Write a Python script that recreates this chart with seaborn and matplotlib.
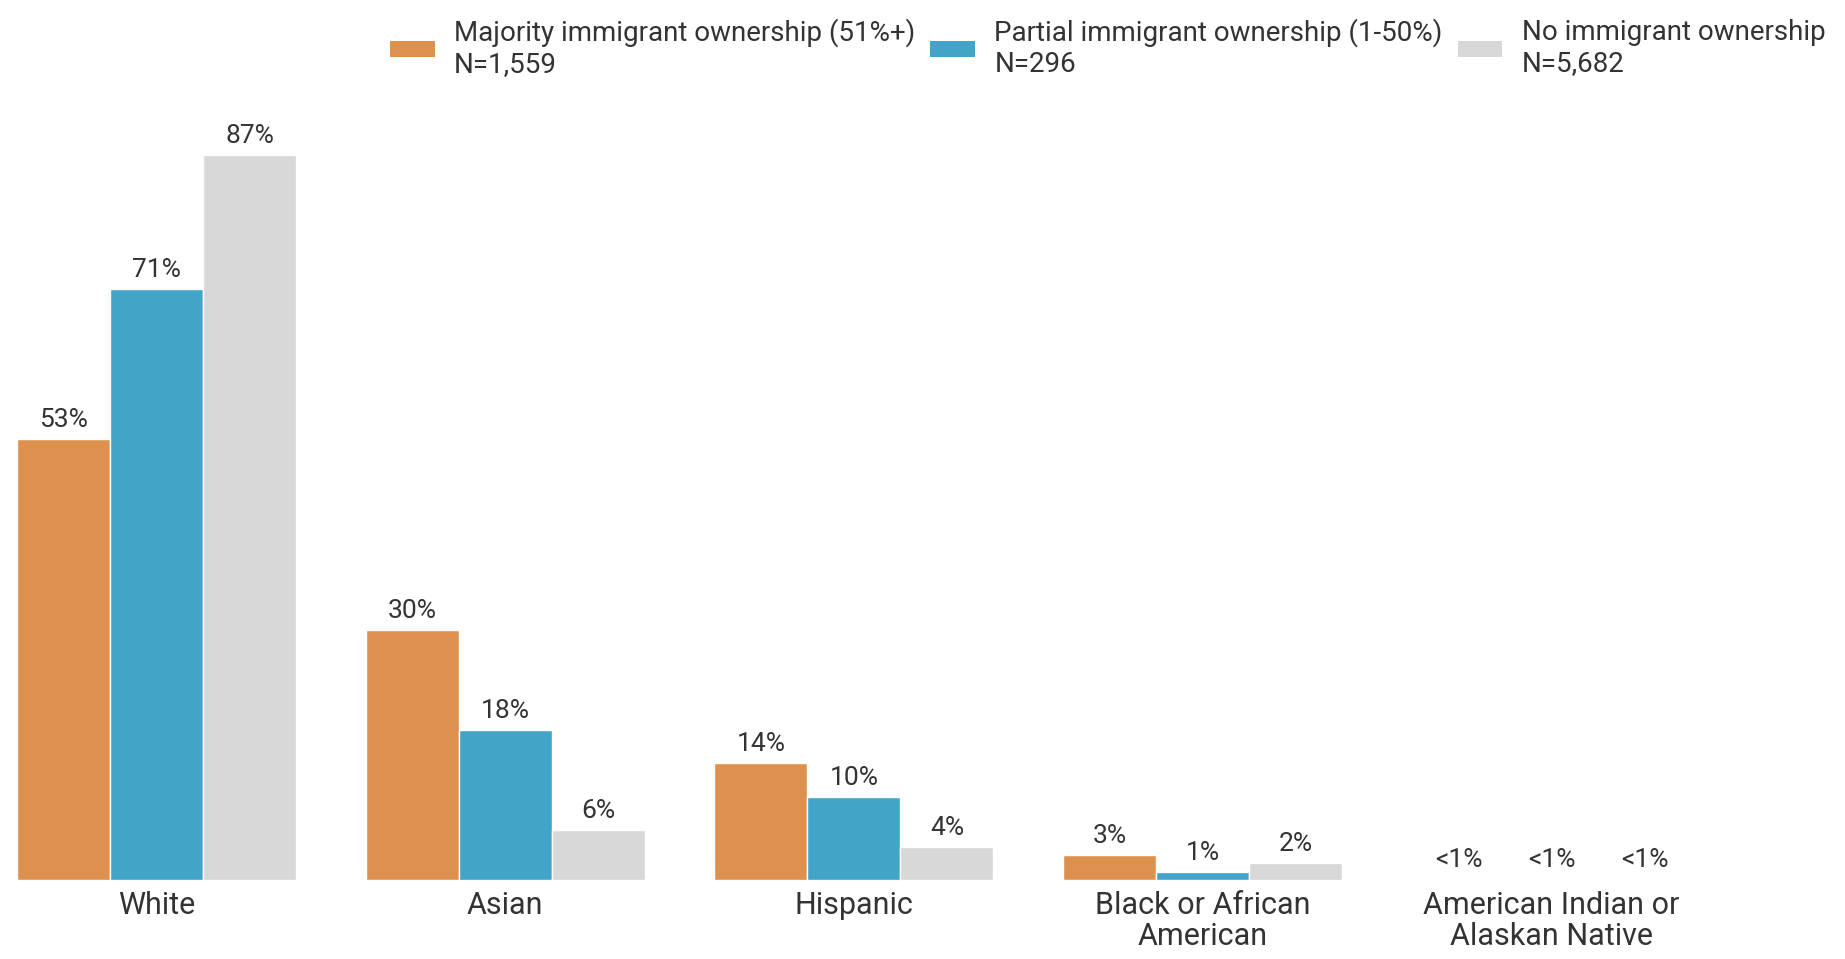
import matplotlib
matplotlib.use("Agg")
import matplotlib.pyplot as plt
from matplotlib.patches import Patch
import pandas as pd
import seaborn as sns

# data (percent of businesses)
categories = ["White", "Asian", "Hispanic", "Black or African\nAmerican",
              "American Indian or\nAlaskan Native"]
groups = ["Majority immigrant ownership (51%+)",
          "Partial immigrant ownership (1-50%)",
          "No immigrant ownership"]
group_n = ["N=1,559", "N=296", "N=5,682"]
majority = [53, 30, 14, 3, 0.1]
partial = [71, 18, 10, 1, 0.1]
no_immigrant = [87, 6, 4, 2, 0.1]
labels_majority = ["53%", "30%", "14%", "3%", "<1%"]
labels_partial = ["71%", "18%", "10%", "1%", "<1%"]
labels_no = ["87%", "6%", "4%", "2%", "<1%"]
colors = ["#DE914E", "#42A4C8", "#D8D8D8"]

rows = []
for g, vals in zip(groups, [majority, partial, no_immigrant]):
    for c, v in zip(categories, vals):
        rows.append({"category": c, "group": g, "value": v})
df = pd.DataFrame(rows)

sns.set_style("white")
plt.rcParams["font.family"] = ["Roboto", "DejaVu Sans"]
text_color = "#333333"

fig = plt.figure(figsize=(18.45, 9.59), dpi=100)
ax = fig.add_axes([17 / 1845, 79 / 959, (1691 - 17) / 1845, 833 / 959])

sns.barplot(data=df, x="category", y="value", hue="group", hue_order=groups,
            order=categories, palette=colors, width=0.8, edgecolor="white",
            linewidth=1, saturation=1, legend=False, ax=ax)

for cont, labs in zip(ax.containers, [labels_majority, labels_partial, labels_no]):
    ax.bar_label(cont, labels=labs, padding=5, fontsize=19, color=text_color)

ax.set_xlim(-0.4, 4.4)
ax.set_ylim(0, 100)
ax.set_xlabel("")
ax.set_ylabel("")
ax.set_yticks([])
ax.tick_params(axis="x", length=0, pad=8, labelsize=22, labelcolor=text_color)
for t in ax.get_xticklabels():
    t.set_linespacing(1.1)
sns.despine(ax=ax, left=True, bottom=True)

handles = [Patch(facecolor=c, edgecolor="none") for c in colors]
leg_labels = [f"{g}\n{n}" for g, n in zip(groups, group_n)]
fig.legend(handles, leg_labels, loc="upper right", bbox_to_anchor=(1.003, 1.007),
           ncol=3, frameon=False, fontsize=20, labelcolor=text_color,
           handlelength=1.6, handleheight=0.55, handletextpad=0.7,
           columnspacing=0.55, labelspacing=0.2)

fig.savefig("out.png", dpi=100)
